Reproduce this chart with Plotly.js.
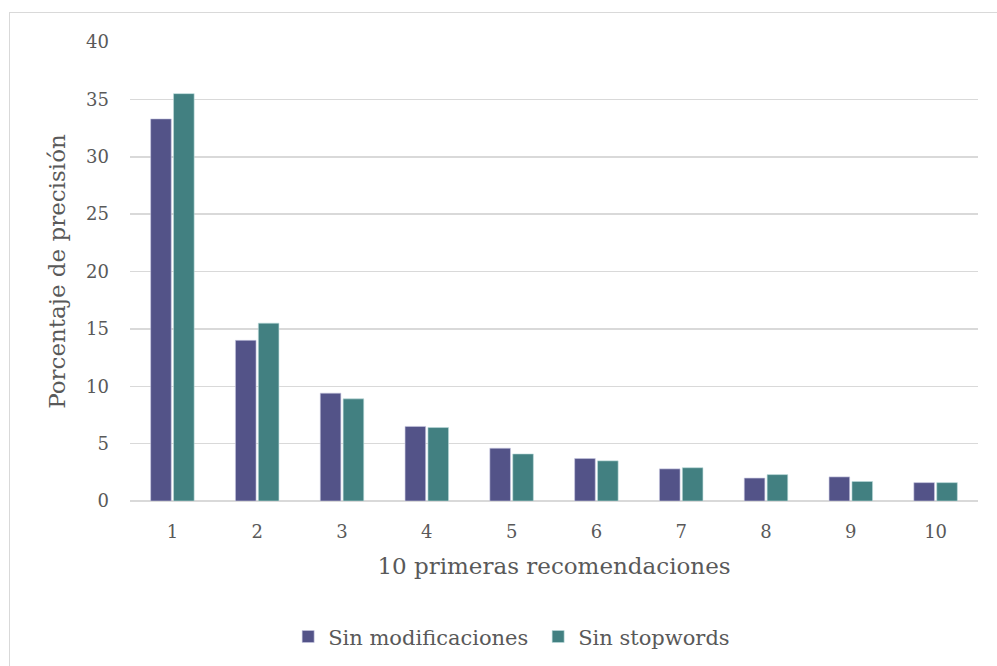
<!DOCTYPE html>
<html>
<head>
<meta charset="utf-8">
<script src="https://cdn.plot.ly/plotly-3.0.1.min.js"></script>
<style>
  html, body { margin: 0; padding: 0; background: #ffffff; overflow: hidden; }
  #frame { position: absolute; left: 9px; top: 12px; width: 1100px; height: 700px;
           border: 1px solid #d9d9d9; box-sizing: border-box; }
  #chart { position: absolute; left: 0; top: 0; width: 997px; height: 666px; }
</style>
</head>
<body>
<div id="frame"></div>
<div id="chart"></div>
<script>
// Precision (%) for each of the first 10 recommendations
const categories = ['1', '2', '3', '4', '5', '6', '7', '8', '9', '10'];
const sinModificaciones = [33.3, 14.0, 9.4, 6.5, 4.6, 3.7, 2.8, 2.0, 2.1, 1.6];
const sinStopwords      = [35.5, 15.5, 8.9, 6.4, 4.1, 3.5, 2.9, 2.3, 1.7, 1.6];
const yTicks = [0, 5, 10, 15, 20, 25, 30, 35, 40];

const FONT = 'DejaVu Serif, Georgia, serif';
const TEXT = '#595959';

const traces = [
  {
    type: 'bar', name: 'Sin modificaciones', x: categories, y: sinModificaciones,
    marker: { color: '#535388', line: { color: 'rgba(200,200,225,0.6)', width: 1 } },
    hoverinfo: 'x+y'
  },
  {
    type: 'bar', name: 'Sin stopwords', x: categories, y: sinStopwords,
    marker: { color: '#428081', line: { color: 'rgba(190,220,220,0.6)', width: 1 } },
    hoverinfo: 'x+y'
  }
];

const layout = {
  width: 997, height: 666,
  margin: { l: 130, r: 19, t: 42, b: 165, autoexpand: false },
  paper_bgcolor: 'rgba(0,0,0,0)', plot_bgcolor: 'rgba(0,0,0,0)',
  font: { family: FONT, color: TEXT, size: 18 },
  barmode: 'group', bargap: 0.46, bargroupgap: 0.1,
  showlegend: true,
  legend: {
    orientation: 'h', x: 0.1865, xanchor: 'left', y: -0.296, yanchor: 'middle',
    font: { family: FONT, size: 21, color: TEXT }, itemwidth: 30,
    entrywidth: 205, entrywidthmode: 'pixels', traceorder: 'normal'
  },
  xaxis: {
    type: 'category', showgrid: false, zeroline: false, showline: false,
    ticks: '', ticklabelstandoff: 18, automargin: false,
    tickfont: { family: FONT, size: 18, color: TEXT },
    title: { text: '10 primeras recomendaciones', standoff: 16,
             font: { family: FONT, size: 23, color: TEXT } }
  },
  yaxis: {
    range: [0, 40], tickvals: yTicks, ticktext: yTicks.map(String),
    showgrid: true, gridcolor: '#d9d9d9', gridwidth: 1.5,
    zeroline: true, zerolinecolor: '#d9d9d9', zerolinewidth: 1.5,
    showline: false, ticks: '', ticklabelstandoff: 20, automargin: false,
    tickfont: { family: FONT, size: 18, color: TEXT },
    title: { text: 'Porcentaje de precisión', standoff: 14,
             font: { family: FONT, size: 23, color: TEXT } }
  }
};

Plotly.newPlot('chart', traces, layout, { displayModeBar: false, staticPlot: true });
</script>
</body>
</html>
